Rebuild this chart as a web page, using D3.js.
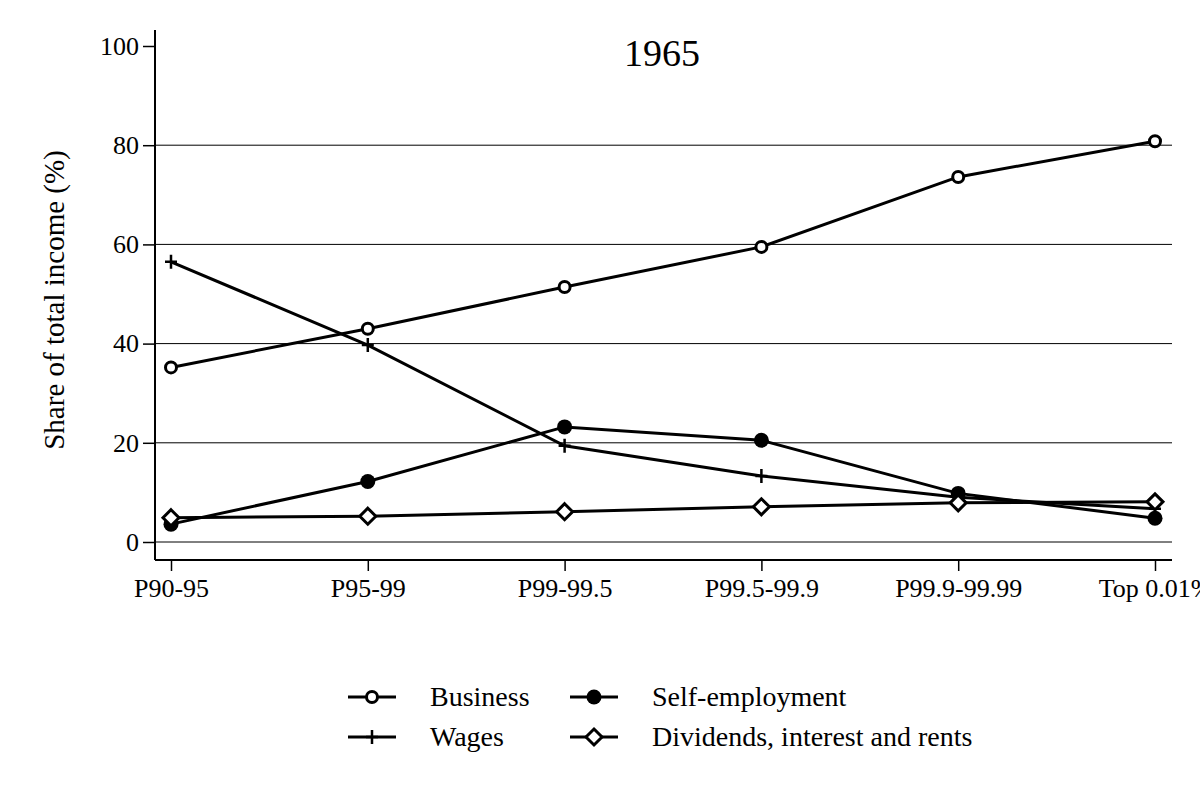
<!DOCTYPE html>
<html><head><meta charset="utf-8">
<script src="https://cdn.jsdelivr.net/npm/d3@7"></script>
<style>body{margin:0;background:#fff}svg{display:block}text{font-family:"Liberation Serif","Times New Roman",serif;fill:#000}</style>
</head><body><svg id="c" width="1200" height="800"></svg>
<script>
const categories = ["P90-95","P95-99","P99-99.5","P99.5-99.9","P99.9-99.99","Top 0.01%"];
const business = [35.2, 43.0, 51.4, 59.5, 73.6, 80.8];
const wages = [56.5, 39.7, 19.4, 13.3, 9.0, 6.7];
const selfEmployment = [3.6, 12.2, 23.2, 20.5, 9.8, 4.8];
const dividends = [4.9, 5.2, 6.1, 7.1, 7.9, 8.1];
const yTicks = [0, 20, 40, 60, 80, 100];
const seriesNames = ["Business","Wages","Self-employment","Dividends, interest and rents"];
const titleText = "1965";

const svg = d3.select("#c");
const x = d3.scalePoint().domain(categories).range([171, 1155]);
const y = d3.scaleLinear().domain([0, 100]).range([542, 46]);
const xL = 155, xR = 1172, yB = 560;

// gridlines
svg.append("g").selectAll("line").data(yTicks.filter(d => d > 0 && d < 100)).join("line")
  .attr("x1", xL).attr("x2", xR).attr("y1", d => y(d)).attr("y2", d => y(d))
  .attr("stroke", "#000").attr("stroke-width", 1);
svg.append("line").attr("x1", xL).attr("x2", xR).attr("y1", y(0)).attr("y2", y(0)).attr("stroke","#000").attr("stroke-width",1);

// y axis
const ya = svg.append("g").attr("transform", `translate(${xL},0)`)
  .call(d3.axisLeft(y).tickValues(yTicks).tickSize(12).tickPadding(4));
ya.select(".domain").remove();
ya.append("line").attr("x1",0).attr("x2",0).attr("y1",30).attr("y2",yB).attr("stroke","#000").attr("stroke-width",2);
ya.selectAll(".tick line").attr("stroke-width",1.5);
ya.selectAll(".tick text").style("font-size","26px").style("font-family","Liberation Serif");

// x axis
const xa = svg.append("g").attr("transform", `translate(0,${yB})`)
  .call(d3.axisBottom(x).tickSize(11).tickPadding(8));
xa.select(".domain").remove();
xa.append("line").attr("x1",xL).attr("x2",xR).attr("y1",0).attr("y2",0).attr("stroke","#000").attr("stroke-width",2);
xa.selectAll(".tick line").attr("stroke-width",1.5);
xa.selectAll(".tick text").style("font-size","26px").style("font-family","Liberation Serif");

// axis title
svg.append("text").attr("transform","translate(64,300) rotate(-90)").attr("text-anchor","middle")
  .style("font-size","29px").text("Share of total income (%)");
// title
svg.append("text").attr("x",662).attr("y",66).attr("text-anchor","middle").style("font-size","38px").text(titleText);

const line = d3.line().x((d,i) => x(categories[i])).y(d => y(d));
const seriesData = [business, wages, selfEmployment, dividends];
const markerTypes = ["circle","plus","dot","diamond"];

function drawMarker(g, type, cx, cy) {
  if (type === "circle") g.append("circle").attr("cx",cx).attr("cy",cy).attr("r",5.5).attr("fill","#fff").attr("stroke","#000").attr("stroke-width",3);
  else if (type === "dot") g.append("circle").attr("cx",cx).attr("cy",cy).attr("r",7.5).attr("fill","#000");
  else if (type === "plus") g.append("path").attr("d",`M${cx-6},${cy}H${cx+6}M${cx},${cy-7}V${cy+7}`).attr("stroke","#000").attr("stroke-width",2.5);
  else if (type === "diamond") g.append("path").attr("d",`M${cx},${cy-8}L${cx+8},${cy}L${cx},${cy+8}L${cx-8},${cy}Z`).attr("fill","#fff").attr("stroke","#000").attr("stroke-width",3);
}

const gl = svg.append("g");
seriesData.forEach((s) => {
  gl.append("path").datum(s).attr("d", line).attr("fill","none").attr("stroke","#000").attr("stroke-width",3);
});
seriesData.forEach((s, k) => {
  const g = svg.append("g");
  s.forEach((v, i) => drawMarker(g, markerTypes[k], x(categories[i]), y(v)));
});

// legend
const legPos = [[348,697],[348,737],[570,697],[570,737]];
seriesNames.forEach((n, k) => {
  const [lx, ly] = legPos[k];
  const g = svg.append("g");
  g.append("line").attr("x1",lx).attr("x2",lx+48).attr("y1",ly).attr("y2",ly).attr("stroke","#000").attr("stroke-width",3);
  drawMarker(g, markerTypes[k], lx+24, ly);
  g.append("text").attr("x", lx+82).attr("y", ly+9).style("font-size","28px").text(n);
});
</script></body></html>
